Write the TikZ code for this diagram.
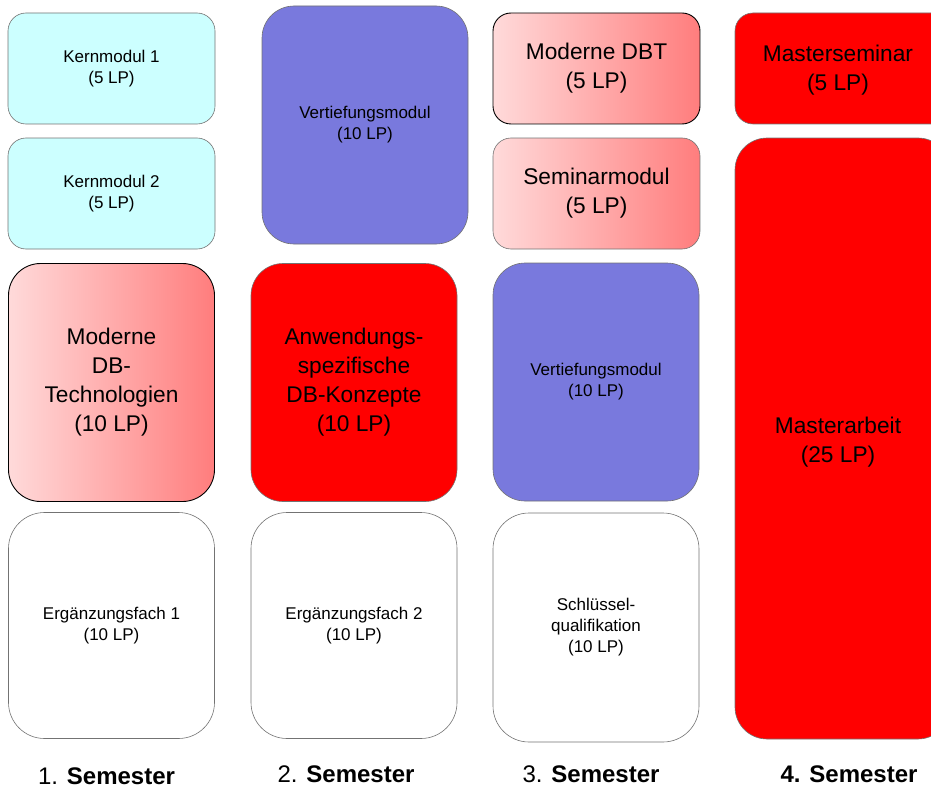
\documentclass[tikz,border=0pt]{standalone}
\usepackage{fontspec}
\setmainfont{Liberation Sans}
\usetikzlibrary{calc}
\definecolor{kerncyan}{RGB}{204,255,255}
\definecolor{vertblau}{RGB}{121,121,221}
\definecolor{rosahell}{RGB}{255,218,218}
\definecolor{rosadunkel}{RGB}{255,125,125}
\def\kleintext{\fontsize{17}{21}\selectfont}
\def\grosstext{\fontsize{22.7}{29}\selectfont}
\tikzset{
	modul/.style={rectangle, inner sep=0pt, align=center, line width=0.6pt, draw=black!55},
	kurz/.style={modul, minimum width=207pt, minimum height=111pt, rounded corners=18pt},
	lang/.style={modul, minimum width=206pt, minimum height=238pt, rounded corners=32pt},
	unten/.style={modul, minimum width=206pt, minimum height=226pt, rounded corners=36pt, fill=white, font=\kleintext},
	verlauf/.style={shade, left color=rosahell, right color=rosadunkel},
	semlabel/.style={anchor=base, font=\fontsize{24}{28}\selectfont}
}

\begin{document}
\begin{tikzpicture}[x=1pt, y=-1pt]
			%%%%% START %%%%%
			\clip (0, 0) rectangle (931, 789);
			
			% 1. Semester
			\node[kurz, fill=kerncyan, font=\kleintext] (kern1) at (111.5, 68.5) {Kernmodul 1\\(5 LP)};
			\node[kurz, fill=kerncyan, font=\kleintext] (kern2) at (111.5, 193.5) {Kernmodul 2\\(5 LP)};
			\node[lang, verlauf, draw=black, line width=0.9pt, font=\grosstext] (mdbtech) at (111.5, 382.5) {Moderne\\DB-\\Technologien\\(10 LP)};
			\node[unten] (erg1) at (111.5, 625.5) {Ergänzungsfach 1\\(10 LP)};
			
			% 2. Semester
			\node[lang, fill=vertblau, font=\kleintext] (vert1) at (365, 125) {Vertiefungsmodul\\(10 LP)};
			\node[lang, fill=red, font=\grosstext] (anwend) at (354, 382.5) {Anwendungs-\\spezifische\\DB-Konzepte\\(10 LP)};
			\node[unten] (erg2) at (354, 625.5) {Ergänzungsfach 2\\(10 LP)};
			
			% 3. Semester
			\node[kurz, verlauf, draw=black, line width=0.9pt, font=\grosstext] (mdbt) at (596.5, 68.5) {Moderne DBT\\(5 LP)};
			\node[kurz, verlauf, font=\grosstext] (semmod) at (596.5, 193.5) {Seminarmodul\\(5 LP)};
			\node[lang, fill=vertblau, font=\kleintext] (vert2) at (596, 382) {Vertiefungsmodul\\(10 LP)};
			\node[unten, minimum height=229pt] (schluessel) at (596, 627.5) {Schlüssel-\\qualifikation\\(10 LP)};
			
			% 4. Semester
			\node[kurz, fill=red, minimum width=215pt] (msem) at (842.5, 68.5) {};
			\node[font=\grosstext, align=center] (msemtext) at (838, 70) {Masterseminar\\(5 LP)};
			\node[lang, fill=red, minimum width=215pt, minimum height=601pt] (marbeit) at (842.5, 438.5) {};
			\node[font=\grosstext, align=center] (marbeittext) at (838, 442) {Masterarbeit\\(25 LP)};
			
			% Semester
			\node[semlabel] (sem1) at (106.5, 784) {1. \textbf{Semester}};
			\node[semlabel] (sem2) at (346, 782) {2. \textbf{Semester}};
			\node[semlabel] (sem3) at (591, 782) {3. \textbf{Semester}};
			\node[semlabel] (sem4) at (849, 782) {\textbf{4. Semester}};
			
			%%%%% END %%%%%
\end{tikzpicture}
\end{document}
